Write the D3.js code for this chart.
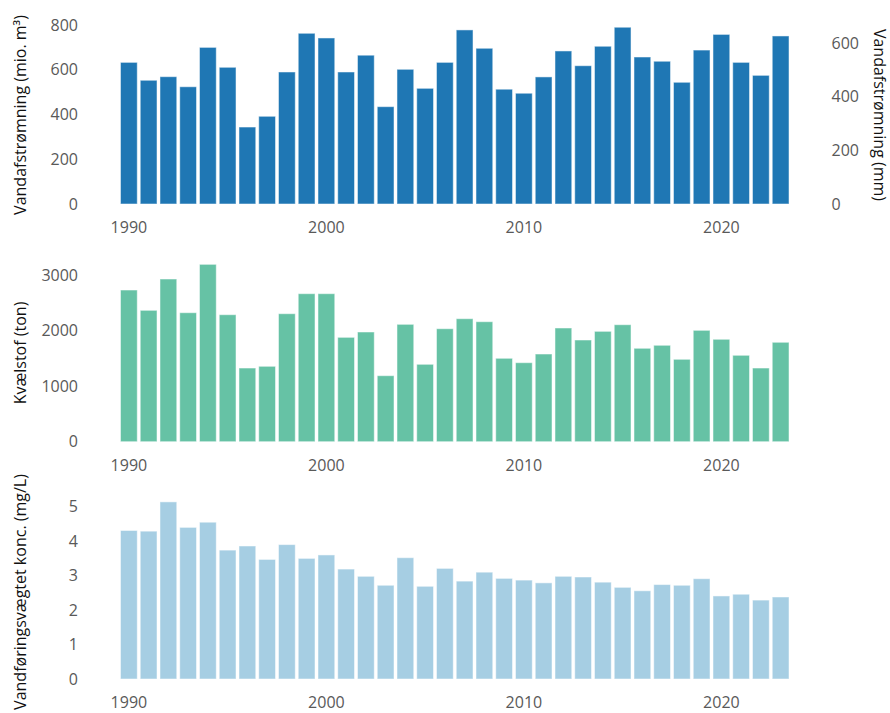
<!DOCTYPE html>
<html>
<head>
<meta charset="utf-8">
<script src="https://cdn.jsdelivr.net/npm/d3@7"></script>
<style>
  body { margin: 0; background: #fff; }
  svg { display: block; font-family: "Open Sans", sans-serif; }
</style>
</head>
<body>
<svg id="chart" width="890" height="713"></svg>
<script>
const years = d3.range(1990, 2024);
const flowMio = [633, 553, 569, 524, 700, 611, 344, 392, 590, 763, 742, 590, 665, 435, 602, 517, 633,
                 778, 696, 513, 495, 568, 684, 618, 705, 790, 657, 638, 544, 688, 758, 633, 575, 751];
const nitrogen = [2728, 2363, 2926, 2320, 3190, 2284, 1325, 1356, 2302, 2662, 2662, 1877, 1973, 1187, 2111, 1392, 2032,
                  2212, 2158, 1500, 1421, 1577, 2045, 1829, 1985, 2104, 1680, 1734, 1482, 2003, 1842, 1554, 1325, 1788];
const conc = [4.31, 4.29, 5.14, 4.40, 4.55, 3.74, 3.86, 3.47, 3.90, 3.50, 3.60, 3.19, 2.98, 2.72, 3.52, 2.69, 3.21,
              2.84, 3.10, 2.92, 2.87, 2.79, 2.98, 2.96, 2.81, 2.66, 2.56, 2.74, 2.72, 2.91, 2.41, 2.46, 2.29, 2.38];
const xTickYears = [1990, 2000, 2010, 2020];
const flowTicks = [0, 200, 400, 600, 800];
const flowMmTicks = [0, 200, 400, 600];
const nTicks = [0, 1000, 2000, 3000];
const cTicks = [0, 1, 2, 3, 4, 5];
const mioPerMm = 1.2;

const svg = d3.select("#chart");
const x = d3.scaleBand().domain(years).range([119, 790.5]).paddingInner(0.1).paddingOuter(0.05);

const panels = [
  { data: flowMio, color: "#1f77b4", y0: 204, y1: 25, max: 800, ticks: flowTicks, title: "Vandafstrømning (mio. m³)", cy: 115 },
  { data: nitrogen, color: "#66c2a5", y0: 441.7, y1: 274.9, max: 3000, ticks: nTicks, title: "Kvælstof (ton)", cy: 353 },
  { data: conc, color: "#a6cee3", y0: 679, y1: 506.7, max: 5, ticks: cTicks, title: "Vandføringsvægtet konc. (mg/L)", cy: 592 }
];

const fs = "16px";
panels.forEach((p, i) => {
  const y = d3.scaleLinear().domain([0, p.max]).range([p.y0, p.y1]);
  const g = svg.append("g");
  g.selectAll("rect").data(p.data).join("rect")
    .attr("x", (d, j) => x(years[j]) + 0.5)
    .attr("width", x.bandwidth() - 1)
    .attr("y", d => y(d))
    .attr("height", d => p.y0 - y(d))
    .attr("fill", p.color)
    .attr("stroke", "rgba(255,255,255,0.5)")
    .attr("stroke-width", 1);

  const ya = g.append("g").attr("transform", "translate(78,0)")
    .call(d3.axisLeft(y).tickValues(p.ticks).tickSize(0).tickPadding(0).tickFormat(d3.format("d")));
  ya.select(".domain").remove();
  ya.selectAll("text").attr("fill", "#595959").style("font-size", fs).style("font-family", "'Open Sans', sans-serif");

  const xa = g.append("g").attr("transform", `translate(0,${p.y0})`)
    .call(d3.axisBottom(x).tickValues(xTickYears).tickSize(0).tickPadding(17.5));
  xa.select(".domain").remove();
  xa.selectAll("text").attr("fill", "#595959").style("font-size", fs).style("font-family", "'Open Sans', sans-serif");

  svg.append("text")
    .attr("transform", `translate(20,${p.cy}) rotate(-90)`)
    .attr("text-anchor", "middle").attr("dy", "0.35em")
    .style("font-size", fs).attr("fill", "#111")
    .text(p.title);

  if (i === 0) {
    const yr = d3.scaleLinear().domain([0, p.max / mioPerMm]).range([p.y0, p.y1]);
    const ra = g.append("g").attr("transform", "translate(831.5,0)")
      .call(d3.axisRight(yr).tickValues(flowMmTicks).tickSize(0).tickPadding(0));
    ra.select(".domain").remove();
    ra.selectAll("text").attr("fill", "#595959").style("font-size", fs).style("font-family", "'Open Sans', sans-serif");
    svg.append("text")
      .attr("transform", `translate(880,${p.cy}) rotate(90)`)
      .attr("text-anchor", "middle").attr("dy", "0.35em")
      .style("font-size", fs).attr("fill", "#111")
      .text("Vandafstrømning (mm)");
  }
});
</script>
</body>
</html>
